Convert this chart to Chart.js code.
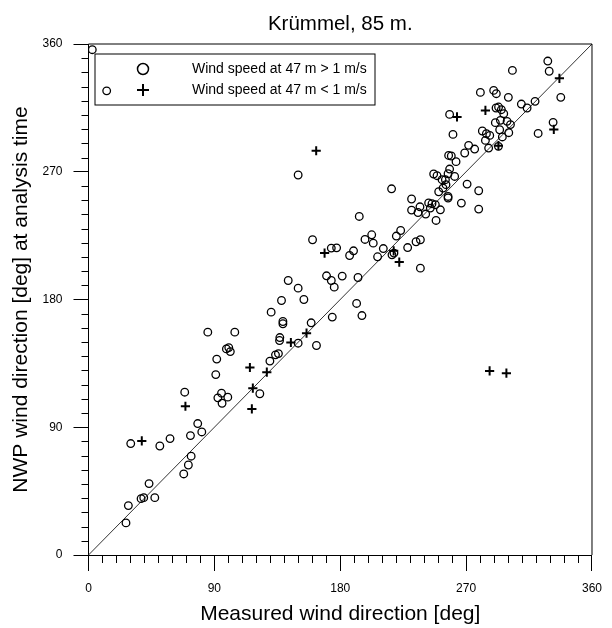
<!DOCTYPE html>
<html>
<head>
<meta charset="utf-8">
<title>Krümmel, 85 m.</title>
<script src="https://cdn.jsdelivr.net/npm/chart.js@4.4.1/dist/chart.umd.min.js"></script>
<style>
  html, body { margin: 0; padding: 0; background: #fff; }
  #wrap { width: 612px; height: 628px; }
</style>
</head>
<body>
<div id="wrap"><canvas id="dirChart" width="612" height="628"></canvas></div>
<script>
// Measured vs NWP wind direction, [measured, nwp] in degrees
// Wind speed at 47 m > 1 m/s
const windAbove1 = [
    [2.7, 356], [13, 327],
    [85.3, 157.0], [104.6, 157.0], [98.6, 145.2], [100.3, 146.1], [101.4, 143.3],
    [91.7, 138.0], [91.0, 127.1], [68.8, 114.7], [95.1, 114.0], [92.5, 110.7],
    [99.6, 111.2], [95.5, 106.9], [122.5, 113.6], [78.1, 92.6], [81.0, 86.7],
    [72.9, 84.1], [30.2, 78.5], [51.0, 76.8], [58.3, 82.0], [73.4, 69.6],
    [71.4, 63.4], [68.1, 57.1], [43.3, 50.3], [37.6, 39.7], [39.5, 40.4],
    [47.4, 40.4], [28.5, 34.8], [26.8, 22.6],
    [149.9, 267.7], [216.7, 258.0], [231.0, 250.8], [231.0, 243.0], [237.0, 245.3],
    [235.6, 241.3], [241.1, 240.2], [243.2, 248.0], [193.6, 238.5], [160.2, 222.1],
    [202.5, 225.6], [197.7, 222.3], [203.6, 219.7], [223.2, 228.6], [220.1, 224.7],
    [173.6, 216.2], [177.4, 216.4], [210.8, 215.9], [189.5, 214.3], [186.7, 211.0],
    [206.7, 210.1], [217.0, 211.5], [218.4, 212.7], [228.2, 216.6], [234.2, 220.7],
    [237.3, 222.1], [237.3, 202.1], [170.2, 196.7], [173.6, 193.4], [175.7, 188.7],
    [181.4, 196.5], [192.7, 195.5], [142.8, 193.4], [149.9, 188.0], [154.0, 180.0],
    [138.0, 179.3], [130.6, 171.1], [191.7, 177.2], [195.5, 168.7], [174.3, 167.6],
    [159.2, 163.6], [139.0, 164.5], [139.0, 162.9], [136.8, 153.2], [136.6, 151.1],
    [133.7, 141.0], [135.8, 141.9], [129.7, 136.6], [149.9, 149.2], [163.0, 147.6],
    [328.4, 348.0], [329.4, 340.8], [303.1, 341.4], [337.7, 322.4], [332.2, 304.8],
    [321.5, 297.0], [280.2, 325.9], [289.7, 327.3], [291.6, 325.0], [300.2, 322.4],
    [309.5, 317.7], [313.6, 314.9], [319.3, 319.6], [291.4, 314.9], [293.2, 315.6],
    [295.2, 313.7], [296.9, 310.9], [258.2, 310.4], [260.6, 296.3], [290.9, 304.6],
    [294.5, 306.2], [299.3, 305.5], [301.7, 303.2], [294.0, 299.6], [300.5, 297.5],
    [281.6, 298.7], [284.5, 296.8], [286.9, 295.6], [283.8, 292.1], [295.9, 294.5],
    [286.1, 286.7], [293.1, 287.9], [271.8, 288.6], [276.1, 286.0], [269.0, 283.2],
    [257.5, 281.5], [259.4, 281.1], [262.8, 277.1], [258.2, 271.9],
    [246.8, 268.4], [249.2, 267.2], [257.1, 268.6], [261.8, 266.7], [252.8, 264.4],
    [255.2, 264.4], [255.6, 260.9], [270.7, 261.3], [279.0, 256.6], [253.5, 258.5],
    [250.4, 255.9], [257.1, 252.6], [257.1, 251.5], [245.6, 247.5], [248.0, 246.8],
    [244.4, 244.4], [251.6, 243.2], [266.6, 247.9], [279.0, 243.7], [248.5, 235.7]
];
// Wind speed at 47 m < 1 m/s
const windBelow1 = [
    [38.1, 80.4], [69.3, 104.8], [115.4, 132.1], [117.5, 117.5], [116.8, 102.9],
    [168.8, 212.7], [218.2, 214.3], [222.2, 206.4], [155.9, 156.3], [144.7, 149.7],
    [127.5, 128.8], [162.8, 284.8],
    [336.7, 335.8], [263.5, 308.6], [283.8, 313.2], [332.7, 299.8], [293.1, 288.4],
    [286.8, 129.7], [298.8, 128.1]
];
const diagonal = [[0, 0], [360, 360]];
const tickValues = [0, 90, 180, 270, 360];
const minorStep = 10;
const chartTitle = 'Krümmel, 85 m.';
const legendLabels = ['Wind speed at 47 m > 1 m/s', 'Wind speed at 47 m < 1 m/s'];

const FONT = "'Liberation Sans', Arial, sans-serif";
const toPoints = arr => arr.map(p => ({ x: p[0], y: p[1] }));

// Title centred over the plot area (not the whole canvas)
const plotTitle = {
    id: 'plotTitle',
    afterDraw(chart) {
        const { ctx, chartArea } = chart;
        ctx.save();
        ctx.fillStyle = '#000';
        ctx.font = '20.5px ' + FONT;
        ctx.textAlign = 'center';
        ctx.textBaseline = 'alphabetic';
        ctx.fillText(chartTitle, (chartArea.left + chartArea.right) / 2, chartArea.top - 14);
        ctx.restore();
    }
};

// Minor ticks and the top/right frame
const frameTicks = {
    id: 'frameTicks',
    afterDraw(chart) {
        const { ctx, chartArea, scales } = chart;
        ctx.save();
        ctx.strokeStyle = '#000';
        ctx.lineWidth = 1;
        ctx.beginPath();
        for (let v = 0; v <= 360; v += minorStep) {
            if (tickValues.includes(v)) continue;
            const px = Math.round(scales.x.getPixelForValue(v)) + 0.5;
            ctx.moveTo(px, chartArea.bottom);
            ctx.lineTo(px, chartArea.bottom + 8);
            const py = Math.round(scales.y.getPixelForValue(v)) + 0.5;
            ctx.moveTo(chartArea.left, py);
            ctx.lineTo(chartArea.left - 7, py);
        }
        ctx.moveTo(chartArea.left, chartArea.top);
        ctx.lineTo(chartArea.right, chartArea.top);
        ctx.lineTo(chartArea.right, chartArea.bottom);
        ctx.stroke();
        ctx.restore();
    }
};

// Legend box inside the plot, drawn below the points
const boxLegend = {
    id: 'boxLegend',
    beforeDatasetsDraw(chart) {
        const { ctx, chartArea } = chart;
        const left = chartArea.left + 6.5, top = chartArea.top + 10;
        ctx.save();
        ctx.fillStyle = '#fff';
        ctx.strokeStyle = '#000';
        ctx.lineWidth = 1;
        ctx.fillRect(left, top, 280, 51);
        ctx.strokeRect(left, top, 280, 51);
        const styles = [
            { pointStyle: 'circle', radius: 5.5, borderWidth: 1.5 },
            { pointStyle: 'cross', radius: 6, borderWidth: 2 }
        ];
        ctx.font = '14px ' + FONT;
        ctx.textBaseline = 'middle';
        legendLabels.forEach((label, i) => {
            const y = top + 15 + i * 21;
            ctx.fillStyle = 'rgba(0,0,0,0)';
            ctx.strokeStyle = '#000';
            ctx.lineWidth = styles[i].borderWidth;
            Chart.helpers.drawPoint(ctx, styles[i], left + 48, y);
            ctx.fillStyle = '#000';
            ctx.fillText(label, left + 97, y);
        });
        ctx.restore();
    }
};

const ctx = document.getElementById('dirChart').getContext('2d');
new Chart(ctx, {
    type: 'scatter',
    data: {
        datasets: [
            {
                label: legendLabels[0],
                data: toPoints(windAbove1),
                pointStyle: 'circle',
                pointRadius: 3.8,
                borderColor: '#000',
                backgroundColor: 'rgba(0,0,0,0)',
                borderWidth: 1.3,
                order: 1
            },
            {
                label: legendLabels[1],
                data: toPoints(windBelow1),
                pointStyle: 'cross',
                pointRadius: 4.6,
                borderColor: '#000',
                borderWidth: 2,
                order: 0
            },
            {
                type: 'line',
                label: 'diagonal',
                data: toPoints(diagonal),
                borderColor: '#333',
                borderWidth: 1,
                pointRadius: 0,
                order: 2
            }
        ]
    },
    options: {
        responsive: false,
        animation: false,
        events: [],
        layout: { padding: { top: 44, right: 20, bottom: 0, left: 0 } },
        plugins: {
            legend: { display: false },
            tooltip: { enabled: false },
            title: { display: false }
        },
        scales: {
            x: {
                type: 'linear',
                min: 0,
                max: 360,
                afterBuildTicks: s => { s.ticks = tickValues.map(v => ({ value: v })); },
                afterFit: s => { s.height = 73; },
                border: { display: true, color: '#000', width: 1 },
                grid: { drawOnChartArea: false, drawTicks: true, tickLength: 16, tickColor: '#000' },
                ticks: { color: '#000', padding: 10, maxRotation: 0, font: { family: FONT, size: 12 } },
                title: {
                    display: true,
                    text: 'Measured wind direction [deg]',
                    color: '#000',
                    font: { family: FONT, size: 21 },
                    padding: { top: 0, bottom: 1 }
                }
            },
            y: {
                type: 'linear',
                min: 0,
                max: 360,
                afterBuildTicks: s => { s.ticks = tickValues.map(v => ({ value: v })); },
                afterFit: s => { s.width = 88.5; },
                border: { display: true, color: '#000', width: 1 },
                grid: { drawOnChartArea: false, drawTicks: true, tickLength: 15, tickColor: '#000' },
                ticks: { color: '#000', padding: 11, font: { family: FONT, size: 12 } },
                title: {
                    display: true,
                    text: 'NWP wind direction [deg] at analysis time',
                    color: '#000',
                    font: { family: FONT, size: 21 },
                    padding: { top: 9, bottom: 0 }
                }
            }
        }
    },
    plugins: [boxLegend, frameTicks, plotTitle]
});
</script>
</body>
</html>
